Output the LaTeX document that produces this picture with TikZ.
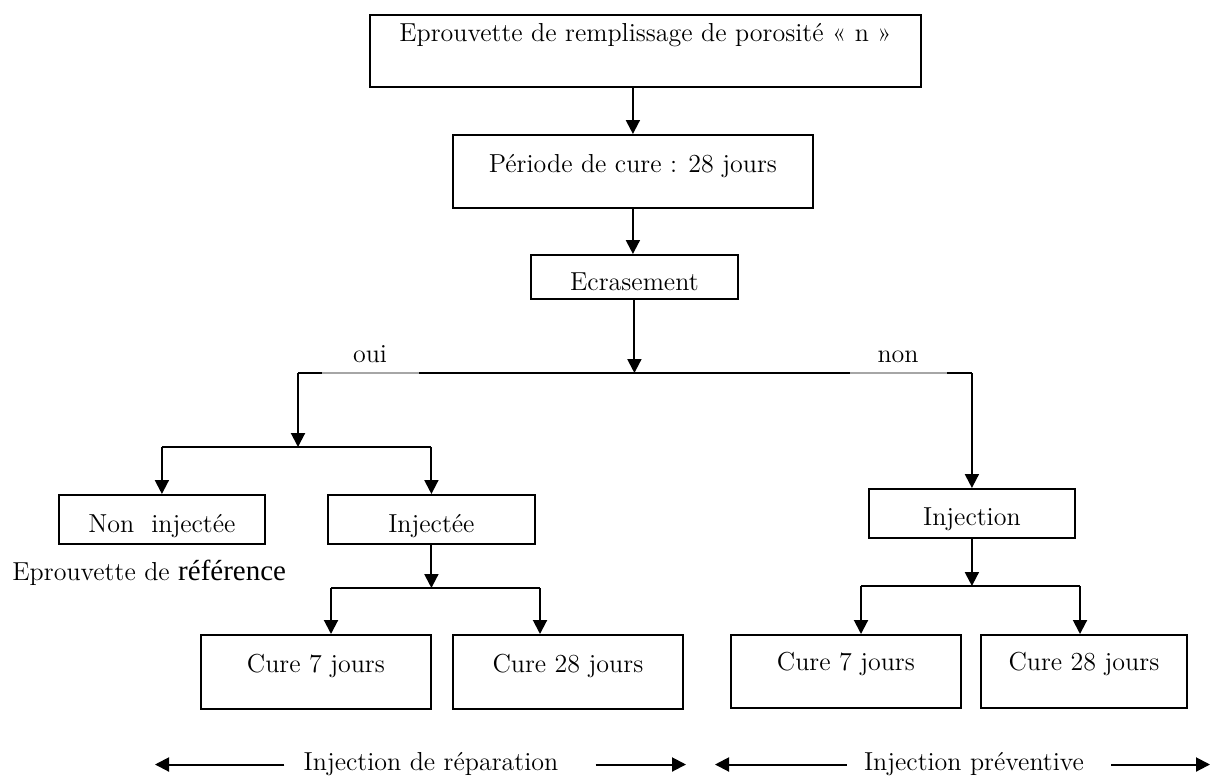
\documentclass[tikz,border=0pt]{standalone}
\usepackage{fontspec}
\newfontfamily\reffont{LiberationSerif-Regular.ttf}
\usetikzlibrary{arrows.meta}
\newcommand\tailletexte{\fontsize{13pt}{15.5pt}\selectfont}
\tikzset{
  etape/.style={draw, line width=0.9pt, inner xsep=0pt, inner ysep=0pt,
    anchor=north west, font=\tailletexte},
  fleche/.style={line width=1pt, -{Triangle[width=7pt,length=7pt]}},
  ligne/.style={line width=1pt},
  lignegris/.style={line width=0.6pt, gray!70},
  etiquette/.style={inner sep=0pt, anchor=base, font=\tailletexte,
    text height=8pt, text depth=2.5pt}
}
\begin{document}
\begin{tikzpicture}[x=0.5pt,y=-0.5pt]
\useasboundingbox (0,0) rectangle (1219,776);
\node[etape, minimum width=275.5pt, text height=13.5pt, text depth=22.5pt] (eprouv) at (369,14)
  {Eprouvette de remplissage de porosité « n »};
\node[etape, minimum width=180pt, text height=19pt, text depth=17.5pt] (periode) at (452,134)
  {Période de cure : 28 jours};
\node[etape, minimum width=103.5pt, text height=18pt, text depth=4pt] (ecras) at (530,254)
  {Ecrasement};
\node[etape, minimum width=103pt, text height=19pt, text depth=5.5pt] (noninj) at (58,494)
  {Non~~injectée};
\node[etape, minimum width=103.5pt, text height=19pt, text depth=5.5pt] (inj) at (327,494)
  {Injectée};
\node[etape, minimum width=103pt, text height=18.5pt, text depth=6pt] (injection) at (868,488)
  {Injection};
\node[etape, minimum width=115pt, text height=19pt, text depth=18pt] (cureA) at (200,634)
  {Cure 7 jours};
\node[etape, minimum width=115pt, text height=19pt, text depth=18pt] (cureB) at (452,634)
  {Cure 28 jours};
\node[etape, minimum width=115pt, text height=18pt, text depth=18.5pt] (cureC) at (730,634)
  {Cure 7 jours};
\node[etape, minimum width=103pt, text height=18pt, text depth=18.5pt] (cureD) at (980,634)
  {Cure 28 jours};
\node[etiquette] (oui) at (370,362) {oui};
\node[etiquette] (non) at (898,362) {non};
\node[anchor=base west, inner sep=0pt, font=\tailletexte] (refer) at (12,580)
  {Eprouvette de {\reffont\fontsize{14.5pt}{17pt}\selectfont référence}};
\node[etiquette] (rep) at (431,770) {Injection de réparation};
\node[etiquette] (prev) at (974,770) {Injection préventive};
% points de branchement
\coordinate (jA) at (634,373);
\coordinate (oL) at (298,373);
\coordinate (oR) at (injection.north |- jA);
\coordinate (g1) at (322,373);
\coordinate (g2) at (419,373);
\coordinate (g3) at (850,373);
\coordinate (g4) at (947,373);
\coordinate (jB) at (298,447);
\coordinate (jC) at (430,588);
\coordinate (cA) at (331,588);
\coordinate (cB) at (540,588);
\coordinate (jD) at (970,586);
\coordinate (cC) at (861,586);
\coordinate (cD) at (1080,586);
\coordinate (repG) at (155,0);
\coordinate (repD) at (686,0);
\coordinate (prevG) at (715,0);
\coordinate (prevD) at (1210,0);
\draw[fleche] (eprouv.south -| periode.north) -- (periode.north);
\draw[fleche] (periode.south) -- (periode.south |- ecras.north);
\draw[fleche] (ecras.south) -- (ecras.south |- jA);
\draw[ligne] (oL) -- (g1) (g2) -- (g3) (g4) -- (oR);
\draw[lignegris] (g1) -- (g2) (g3) -- (g4);
\draw[fleche] (oL) -- (jB);
\draw[ligne] (jB -| noninj.north) -- (jB -| inj.north);
\draw[fleche] (jB -| noninj.north) -- (noninj.north);
\draw[fleche] (jB -| inj.north) -- (inj.north);
\draw[fleche] (oR) -- (injection.north);
\draw[fleche] (inj.south) -- (inj.south |- jC);
\draw[ligne] (cA) -- (cB);
\draw[fleche] (cA) -- (cA |- cureA.north);
\draw[fleche] (cB) -- (cB |- cureB.north);
\draw[fleche] (injection.south) -- (injection.south |- jD);
\draw[ligne] (cC) -- (cD);
\draw[fleche] (cC) -- (cC |- cureC.north);
\draw[fleche] (cD) -- (cD |- cureD.north);
\draw[fleche] ([xshift=-9.5pt]rep.west) -- (rep.west -| repG);
\draw[fleche] ([xshift=18.5pt]rep.east) -- (rep.east -| repD);
\draw[fleche] ([xshift=-8.5pt]prev.west) -- (prev.west -| prevG);
\draw[fleche] ([xshift=13.5pt]prev.east) -- (prev.east -| prevD);
\end{tikzpicture}
\end{document}
